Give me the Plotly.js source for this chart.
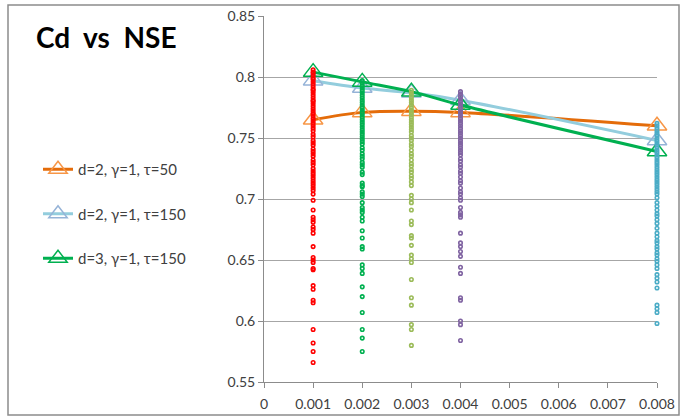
<!DOCTYPE html>
<html>
<head>
<meta charset="utf-8">
<script src="https://cdn.plot.ly/plotly-3.0.1.min.js"></script>
<style>html,body{margin:0;padding:0;background:#fff;}#chart{width:681px;height:417px;}</style>
</head>
<body>
<div id="chart"></div>
<script>
// Cd values (x axis)
var cdValues = [0.001, 0.002, 0.003, 0.004, 0.008];

// Line series (NSE at each Cd)
var seriesNames = ["d=2, γ=1, τ=50", "d=2, γ=1, τ=150", "d=3, γ=1, τ=150"];
var nseD2T50  = [0.765, 0.771, 0.772, 0.771, 0.760];
var nseD2T150 = [0.797, 0.791, 0.787, 0.781, 0.748];
var nseD3T150 = [0.804, 0.796, 0.788, 0.777, 0.739];

// Scatter NSE values for each Cd column
var nse001 = [0.806,0.804,0.803,0.801,0.799,0.798,0.796,0.794,0.792,0.790,0.789,0.787,0.785,0.783,0.781,0.780,0.778,0.776,0.774,0.772,0.770,0.768,0.766,0.764,0.762,0.760,0.758,0.756,0.753,0.751,0.748,0.746,0.744,0.741,0.739,0.737,0.735,0.732,0.730,0.728,0.725,0.723,0.721,0.719,0.717,0.715,0.713,0.711,0.709,0.707,0.704,0.699,0.691,0.685,0.683,0.681,0.677,0.675,0.672,0.661,0.652,0.650,0.648,0.643,0.642,0.629,0.626,0.617,0.615,0.593,0.582,0.575,0.566];
var nse002 = [0.797,0.795,0.793,0.791,0.789,0.787,0.785,0.783,0.781,0.779,0.777,0.775,0.773,0.771,0.769,0.767,0.765,0.763,0.761,0.759,0.757,0.755,0.753,0.751,0.749,0.747,0.745,0.742,0.740,0.737,0.735,0.733,0.730,0.728,0.726,0.722,0.720,0.713,0.711,0.710,0.706,0.704,0.702,0.697,0.693,0.691,0.689,0.685,0.682,0.674,0.668,0.661,0.659,0.646,0.643,0.639,0.628,0.620,0.607,0.593,0.586,0.575];
var nse003 = [0.789,0.787,0.785,0.783,0.781,0.779,0.777,0.775,0.773,0.771,0.769,0.767,0.765,0.763,0.761,0.759,0.757,0.755,0.752,0.750,0.748,0.745,0.743,0.740,0.737,0.735,0.732,0.729,0.727,0.724,0.722,0.719,0.717,0.714,0.711,0.703,0.700,0.697,0.691,0.682,0.679,0.670,0.668,0.662,0.654,0.651,0.648,0.634,0.619,0.613,0.597,0.593,0.580];
var nse004 = [0.788,0.786,0.784,0.782,0.780,0.778,0.776,0.774,0.772,0.770,0.768,0.766,0.764,0.762,0.760,0.758,0.756,0.754,0.752,0.750,0.748,0.746,0.744,0.742,0.740,0.738,0.736,0.733,0.731,0.728,0.726,0.723,0.721,0.718,0.715,0.713,0.709,0.706,0.704,0.701,0.699,0.693,0.689,0.687,0.685,0.672,0.664,0.661,0.657,0.653,0.644,0.639,0.619,0.617,0.600,0.597,0.584];
var nse008 = [0.762,0.760,0.758,0.756,0.754,0.752,0.750,0.748,0.746,0.744,0.742,0.740,0.738,0.736,0.734,0.732,0.730,0.728,0.726,0.724,0.722,0.720,0.718,0.716,0.714,0.712,0.710,0.708,0.706,0.704,0.701,0.697,0.694,0.691,0.688,0.686,0.683,0.680,0.676,0.672,0.669,0.666,0.664,0.661,0.659,0.656,0.654,0.651,0.649,0.646,0.643,0.638,0.635,0.632,0.627,0.613,0.610,0.607,0.598];

var yTicks = [0.55, 0.6, 0.65, 0.7, 0.75, 0.8, 0.85];
var xTicks = [0, 0.001, 0.002, 0.003, 0.004, 0.005, 0.006, 0.007, 0.008];

var lineColors   = ["#E46C0A", "#93CDDD", "#00B050"];
var markerColors = ["#F79646", "#95B3D7", "#00B050"];
var lineData = [nseD2T50, nseD2T150, nseD3T150];

var traces = [];
lineData.forEach(function (ys, i) {
  traces.push({
    type: "scatter", mode: "lines+markers", name: seriesNames[i],
    x: cdValues, y: ys, legendgroup: "g" + i, cliponaxis: false,
    line: {color: lineColors[i], width: 3, shape: "spline", smoothing: 1},
    marker: {symbol: "triangle-up-open", size: 17, color: markerColors[i], line: {width: 1.5, color: markerColors[i]}}
  });
});

var dotSets = [nse001, nse002, nse003, nse004, nse008];
var dotColors = ["#FF0000", "#00B050", "#9BBB59", "#8064A2", "#4BACC6"];
dotSets.forEach(function (ys, i) {
  traces.push({
    type: "scatter", mode: "markers", showlegend: false, hoverinfo: "skip", cliponaxis: false,
    x: ys.map(function () { return cdValues[i]; }), y: ys,
    marker: {symbol: "circle-open", size: 3.5, color: dotColors[i], line: {width: 1.6, color: dotColors[i]}}
  });
});

var W = 393, H = 366, L = 264, B = 35;
function px2x(p) { return (p - L) / W; }
function py2y(p) { return (417 - B - p) / H; }

var layout = {
  width: 681, height: 417,
  margin: {l: L, r: 24, t: 16, b: B},
  paper_bgcolor: "#ffffff", plot_bgcolor: "#ffffff",
  font: {family: "Lato, 'Liberation Sans', sans-serif", color: "#404040", size: 14},
  showlegend: true,
  legend: {
    x: px2x(38), y: py2y(153), xanchor: "left", yanchor: "top",
    traceorder: "grouped", tracegroupgap: 22,
    font: {size: 15, color: "#404040"}, bgcolor: "rgba(0,0,0,0)"
  },
  xaxis: {
    range: [0, 0.008], tickvals: xTicks, ticktext: xTicks.map(String),
    showgrid: false, zeroline: false, showline: true, linecolor: "#8C8C8C", linewidth: 1,
    ticks: "outside", ticklen: 5, tickcolor: "#8C8C8C", ticklabelstandoff: 4,
    tickfont: {size: 14, color: "#404040"}
  },
  yaxis: {
    range: [0.55, 0.85], tickvals: yTicks, ticktext: yTicks.map(String),
    showgrid: true, gridcolor: "#A6A6A6", gridwidth: 1, zeroline: false,
    showline: true, linecolor: "#8C8C8C", linewidth: 1,
    ticks: "outside", ticklen: 5, tickcolor: "#8C8C8C", tickfont: {size: 14, color: "#404040"}
  },
  annotations: [{
    xref: "paper", yref: "paper", x: px2x(34), y: py2y(37), xanchor: "left", yanchor: "middle",
    text: "<b>Cd\u00a0 vs\u00a0 NSE</b>", showarrow: false,
    font: {family: "Lato, 'Liberation Sans', sans-serif", size: 28, color: "#000000"}
  }],
  shapes: [{
    type: "rect", xref: "paper", yref: "paper", layer: "below",
    x0: px2x(8), x1: px2x(679), y0: py2y(415), y1: py2y(5),
    line: {color: "#8C8C8C", width: 1.5}
  }]
};

Plotly.newPlot("chart", traces, layout, {staticPlot: true});
</script>
</body>
</html>
